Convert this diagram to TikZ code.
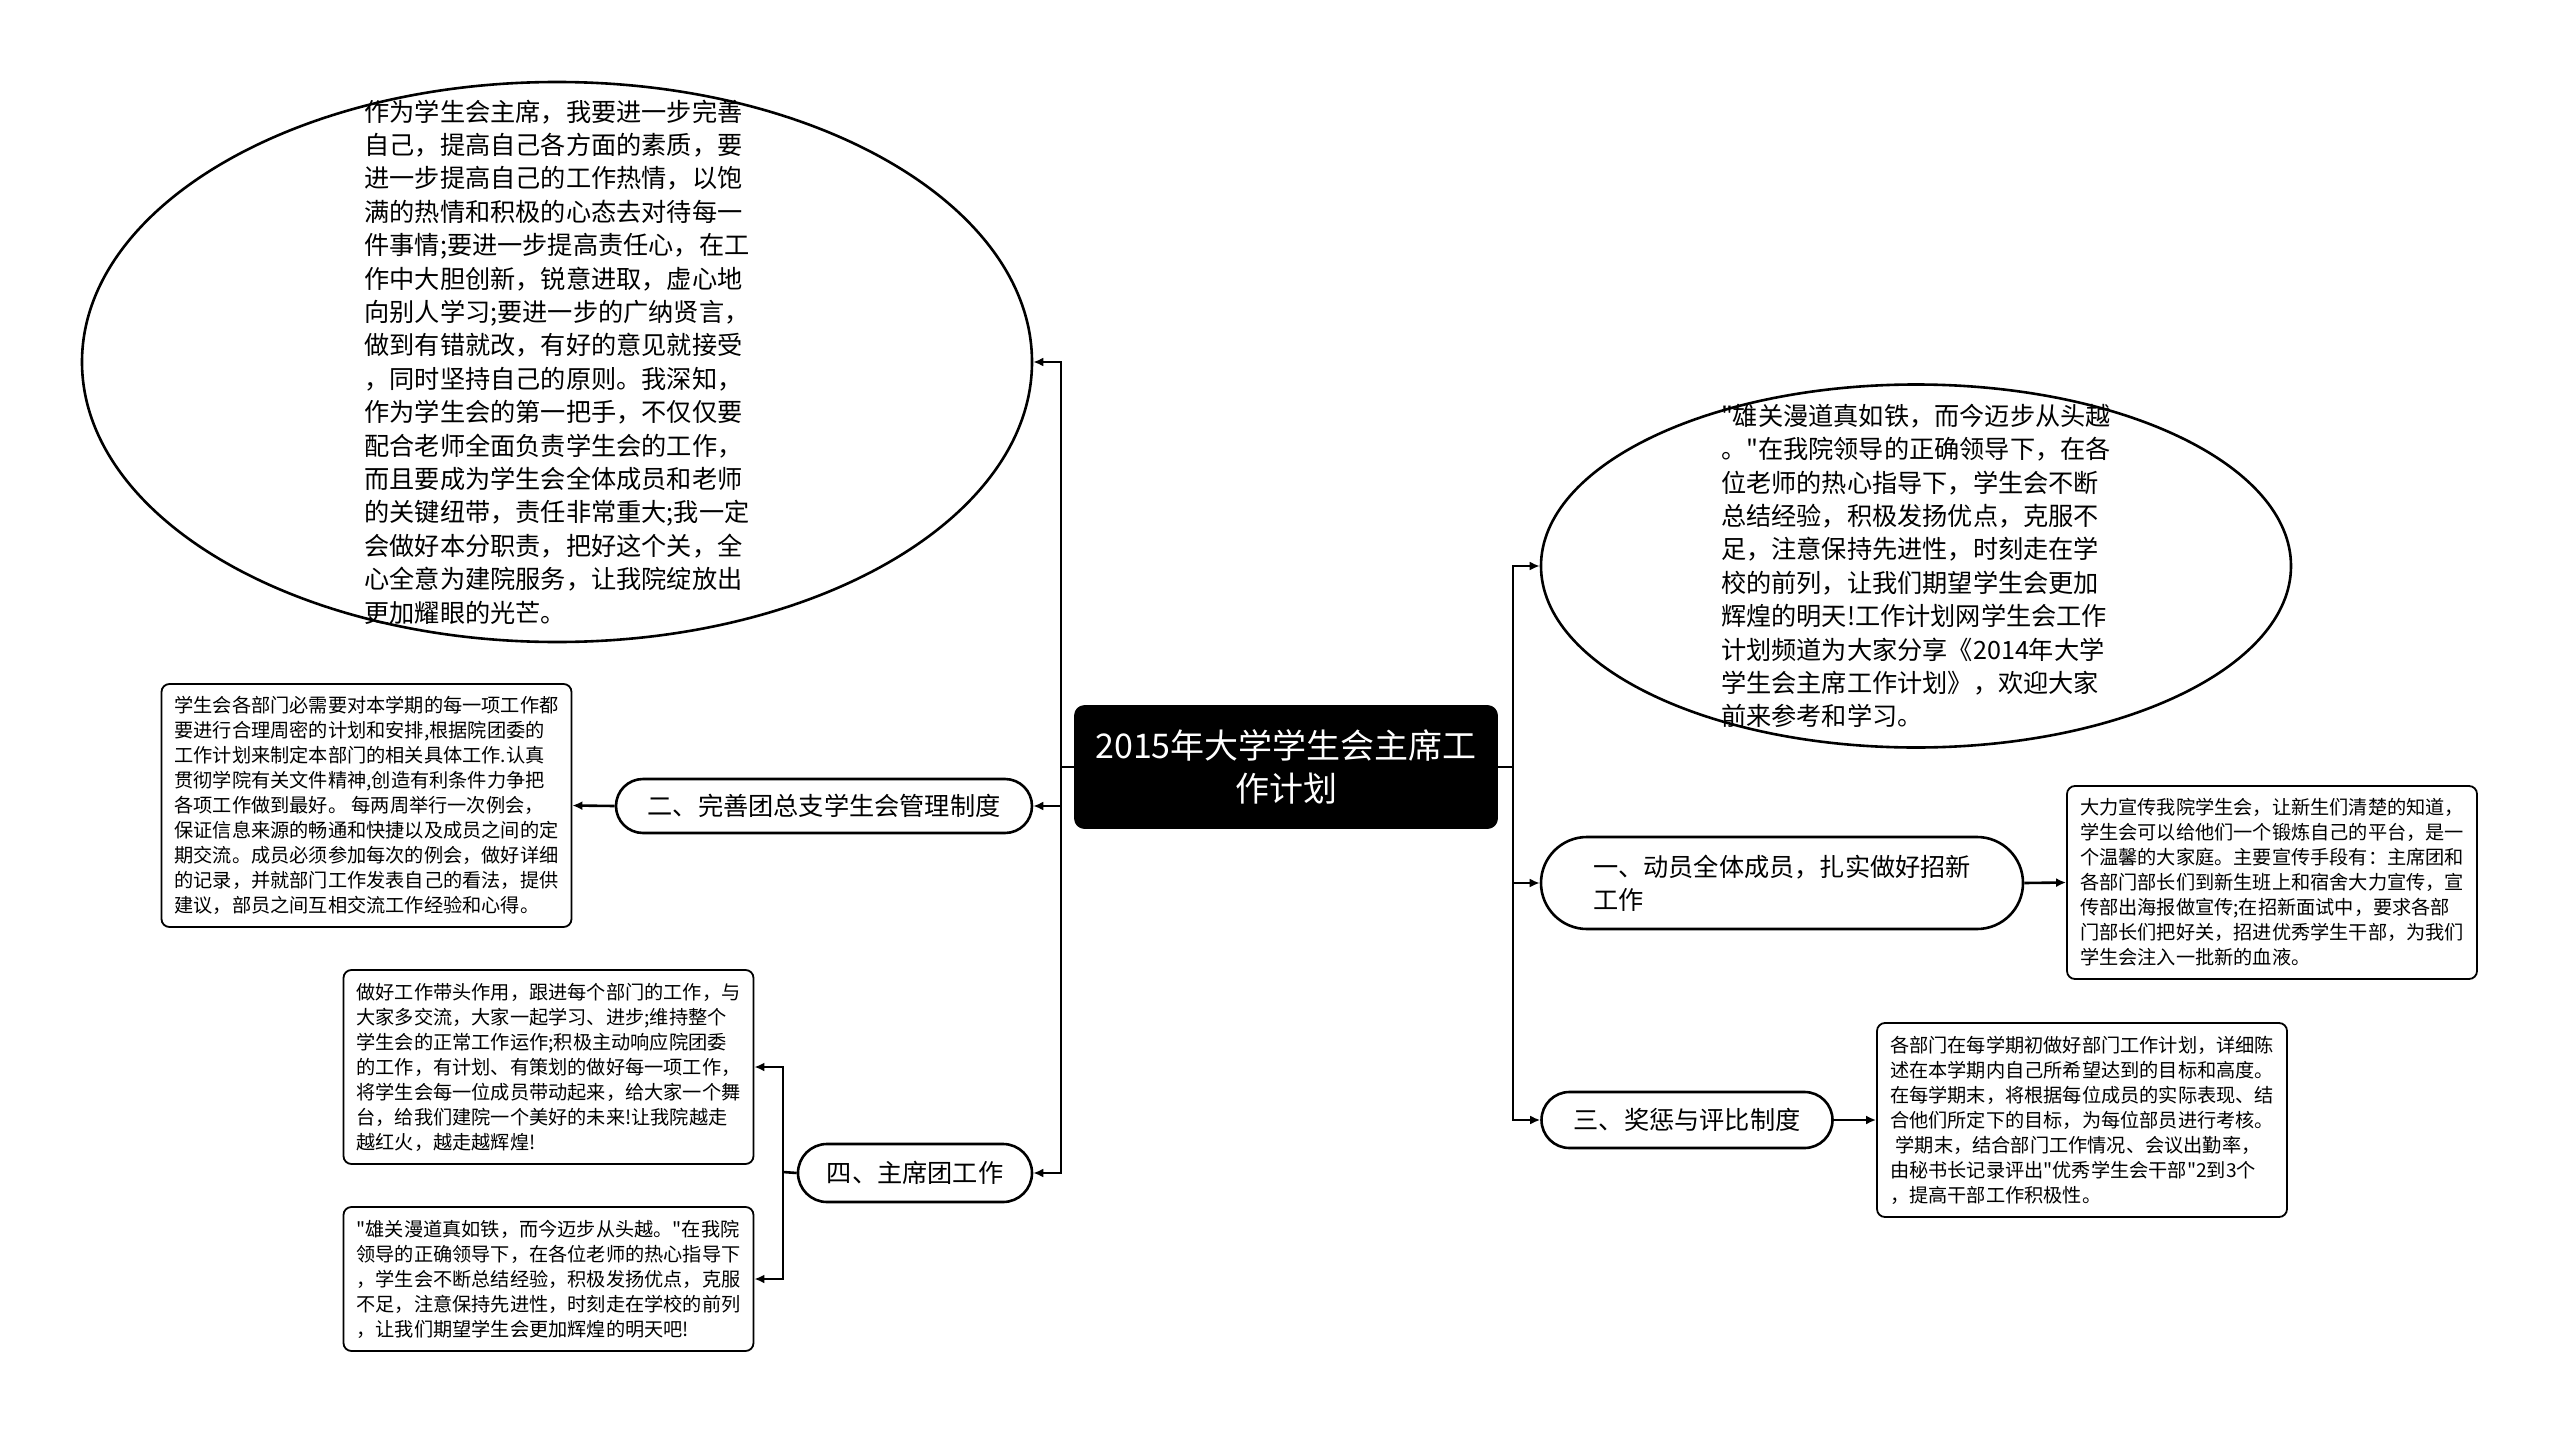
\documentclass[tikz,border=0pt]{standalone}
\usepackage{fontspec}
\newfontfamily\cjkfont{Noto Sans CJK SC}
\usetikzlibrary{arrows.meta, positioning, shapes.geometric, shapes.misc}

\tikzset{
  bubble/.style={draw, ellipse, line width=1.3pt, inner sep=0pt},
  bubbletext/.style={align=left, inner sep=0pt, font=\cjkfont\fontsize{12.6pt}{16.7pt}\selectfont},
  pill/.style={draw, rounded rectangle, line width=1.3pt, inner sep=0pt, align=left,
    font=\cjkfont\fontsize{12.6pt}{16.7pt}\selectfont},
  leafbox/.style={draw, rectangle, rounded corners=4pt, line width=0.9pt, inner sep=0pt,
    minimum width=205pt, minimum height=97pt, align=left, font=\cjkfont\fontsize{9.6pt}{12.5pt}\selectfont},
  link/.style={line width=1.3pt},
  arrowlink/.style={line width=1.3pt, -{Latex[length=5pt,width=4.5pt]}},
}

\begin{document}
\begin{tikzpicture}[x=0.5pt, y=-0.5pt]
    \useasboundingbox (0,0) rectangle (2560,1434);

    % Root
    \node[draw, fill=black, text=white, rounded corners=5pt, minimum width=211.5pt,
      minimum height=61.5pt, align=center, inner sep=0pt,
      font=\cjkfont\fontsize{17pt}{21.5pt}\selectfont] (root) at (1286,767)
      {2015年大学学生会主席工\\作计划};

    % Left side
    \node[bubble, minimum width=475pt, minimum height=280pt] (chair) at (557,362) {};
    \node[bubbletext] (chairtext) at (chair.center) {作为学生会主席，我要进一步完善\\
自己，提高自己各方面的素质，要\\
进一步提高自己的工作热情，以饱\\
满的热情和积极的心态去对待每一\\
件事情;要进一步提高责任心，在工\\
作中大胆创新，锐意进取，虚心地\\
向别人学习;要进一步的广纳贤言，\\
做到有错就改，有好的意见就接受\\
，同时坚持自己的原则。我深知，\\
作为学生会的第一把手，不仅仅要\\
配合老师全面负责学生会的工作，\\
而且要成为学生会全体成员和老师\\
的关键纽带，责任非常重大;我一定\\
会做好本分职责，把好这个关，全\\
心全意为建院服务，让我院绽放出\\
更加耀眼的光芒。};

    \node[pill, minimum width=208pt, minimum height=27pt] (system) at (824,806)
      {二、完善团总支学生会管理制度};
    \node[leafbox, minimum height=121.5pt] (systemleaf) at (366.5,805.5) {学生会各部门必需要对本学期的每一项工作都\\
要进行合理周密的计划和安排,根据院团委的\\
工作计划来制定本部门的相关具体工作.认真\\
贯彻学院有关文件精神,创造有利条件力争把\\
各项工作做到最好。 每两周举行一次例会，\\
保证信息来源的畅通和快捷以及成员之间的定\\
期交流。成员必须参加每次的例会，做好详细\\
的记录，并就部门工作发表自己的看法，提供\\
建议，部员之间互相交流工作经验和心得。};

    \node[pill, minimum width=117pt, minimum height=29pt] (team) at (915,1173)
      {四、主席团工作};
    \node[leafbox] (teamleafa) at (548.5,1067) {做好工作带头作用，跟进每个部门的工作，与\\
大家多交流，大家一起学习、进步;维持整个\\
学生会的正常工作运作;积极主动响应院团委\\
的工作，有计划、有策划的做好每一项工作，\\
将学生会每一位成员带动起来，给大家一个舞\\
台，给我们建院一个美好的未来!让我院越走\\
越红火，越走越辉煌!};
    \node[leafbox, minimum height=72pt] (teamleafb) at (548.5,1279) {"雄关漫道真如铁，而今迈步从头越。"在我院\\
领导的正确领导下，在各位老师的热心指导下\\
，学生会不断总结经验，积极发扬优点，克服\\
不足，注意保持先进性，时刻走在学校的前列\\
，让我们期望学生会更加辉煌的明天吧!};

    % Right side
    \node[bubble, minimum width=375pt, minimum height=181.5pt] (intro) at (1916,566) {};
    \node[bubbletext] (introtext) at (intro.center) {"雄关漫道真如铁，而今迈步从头越\\
。"在我院领导的正确领导下，在各\\
位老师的热心指导下，学生会不断\\
总结经验，积极发扬优点，克服不\\
足，注意保持先进性，时刻走在学\\
校的前列，让我们期望学生会更加\\
辉煌的明天!工作计划网学生会工作\\
计划频道为大家分享《2014年大学\\
学生会主席工作计划》，欢迎大家\\
前来参考和学习。};

    \node[pill, minimum width=241pt, minimum height=46pt] (recruit) at (1782,883)
      {一、动员全体成员，扎实做好招新\\工作};
    \node[leafbox, minimum height=96.5pt] (recruitleaf) at (2272,882.5) {大力宣传我院学生会，让新生们清楚的知道，\\
学生会可以给他们一个锻炼自己的平台，是一\\
个温馨的大家庭。主要宣传手段有：主席团和\\
各部门部长们到新生班上和宿舍大力宣传，宣\\
传部出海报做宣传;在招新面试中，要求各部\\
门部长们把好关，招进优秀学生干部，为我们\\
学生会注入一批新的血液。};

    \node[pill, minimum width=145.5pt, minimum height=28pt] (reward) at (1687,1120)
      {三、奖惩与评比制度};
    \node[leafbox] (rewardleaf) at (2082,1120) {各部门在每学期初做好部门工作计划，详细陈\\
述在本学期内自己所希望达到的目标和高度。\\
在每学期末，将根据每位成员的实际表现、结\\
合他们所定下的目标，为每位部员进行考核。\\
\hspace*{0.3em}学期末，结合部门工作情况、会议出勤率，\\
由秘书长记录评出"优秀学生会干部"2到3个\\
，提高干部工作积极性。};

    % Hubs
    \coordinate (lhub) at (1061,767);
    \coordinate (rhub) at (1513,767);
    \coordinate (thub) at (783,1172);

    % Connectors
    \draw[line width=0.9pt] (root.west) -- (lhub);
    \draw[line width=0.9pt] (root.east) -- (rhub);
    \draw[arrowlink] (lhub) |- (chair.east);
    \draw[arrowlink] (lhub) |- (system.east);
    \draw[arrowlink] (lhub) |- (team.east);
    \draw[arrowlink] (rhub) |- (intro.west);
    \draw[arrowlink] (rhub) |- (recruit.west);
    \draw[arrowlink] (rhub) |- (reward.west);
    \draw[arrowlink] (system.west) -- (systemleaf.east);
    \draw[arrowlink] (recruit.east) -- (recruitleaf.west);
    \draw[arrowlink] (reward.east) -- (rewardleaf.west);
    \draw[link] (team.west) -- (thub);
    \draw[arrowlink] (thub) |- (teamleafa.east);
    \draw[arrowlink] (thub) |- (teamleafb.east);
\end{tikzpicture}
\end{document}
